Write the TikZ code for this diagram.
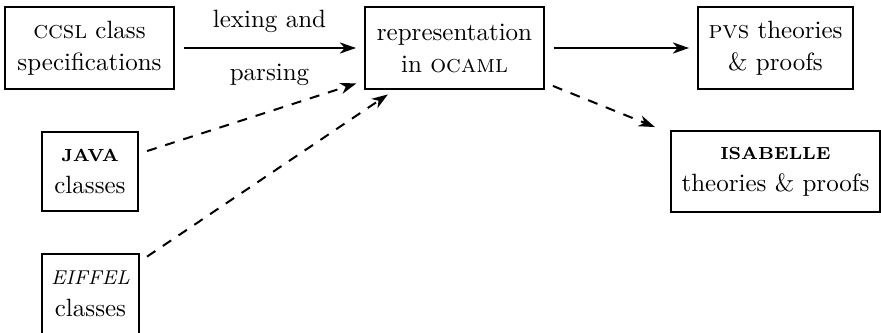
\documentclass[tikz,border=0pt]{standalone}
\usetikzlibrary{
  arrows.meta,
  positioning,
}
\tikzstyle{box} = [
  rectangle,
  draw,
  line width=0.8pt,
  minimum height=32.8pt,
  align=center,
  inner sep=2pt,
  font=\fontsize{10pt}{12.8pt}\selectfont,
]
\tikzstyle{arrow} = [
  -{Stealth[length=6.5pt,width=4.5pt,inset=2pt]},
  line width=0.8pt,
  shorten >=3.2pt,
  shorten <=3.4pt,
]
\tikzstyle{dasharrow} = [
  arrow,
  dash pattern=on 4pt off 3.6pt,
]

\begin{document}
\begin{tikzpicture}[x=0.4pt,y=-0.4pt]
  \useasboundingbox (0,0) rectangle (881,333);

      \node[box,minimum width=67.6pt] (ccsl) at (89.5,48) {\textsc{ccsl} class\\specifications};
      \node[box,minimum width=71.6pt] (rep) at (454.5,48) {representation\\in \textsc{ocaml}};
      \node[box,minimum width=62pt] (pvs) at (775.5,48) {\textsc{pvs} theories\\\& proofs};
      \node[box,minimum width=83.6pt,minimum height=32.4pt] (isabelle) at (775.5,171.5) {{\scriptsize\bfseries ISABELLE}\\theories \& proofs};
      \node[box,minimum width=38.4pt,minimum height=31.6pt] (java) at (90,171.5) {{\scriptsize\bfseries JAVA}\\classes};
      \node[box,minimum width=38.8pt,minimum height=32pt] (eiffel) at (90.5,293.5) {{\footnotesize\itshape EIFFEL}\\classes};

      \draw[arrow] (ccsl.east) -- node[above=2.5pt] {lexing and} node[below=2.5pt] {parsing} (rep.west);
      \draw[arrow] (rep.east) -- (pvs.west);
      \draw[dasharrow] (java.20) -- (rep.200);
      \draw[dasharrow] (eiffel.33) -- (rep.215);
      \draw[dasharrow,shorten >=6.5pt] (rep.-21) -- (isabelle.160);
    \end{tikzpicture}
\end{document}
